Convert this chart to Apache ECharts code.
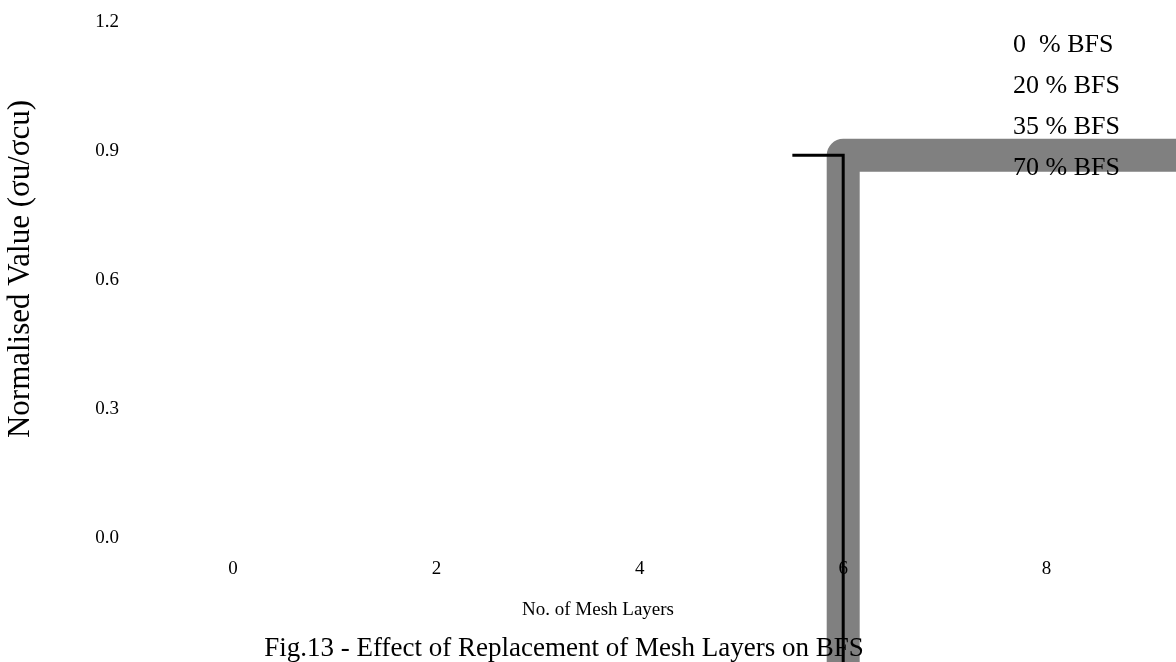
<!DOCTYPE html>
<html>
<head>
<meta charset="utf-8">
<script src="https://cdn.jsdelivr.net/npm/echarts@6/dist/echarts.min.js"></script>
<style>
  html, body { margin: 0; padding: 0; background: #fff; }
  #chart { width: 1176px; height: 662px; }
</style>
</head>
<body>
<div id="chart"></div>
<script>
// Axis ticks
const xTicks = [0, 2, 4, 6, 8];
const yTicks = [0.0, 0.3, 0.6, 0.9, 1.2];

// Series names (BFS replacement levels)
const seriesNames = ['0  % BFS', '20 % BFS', '35 % BFS', '70 % BFS'];

// Series points [mesh layers, normalised value]
const bfs0 = [];
const bfs20 = [];
const bfs35 = [[6, -1.0], [6, 0.89], [12, 0.89]];
const bfs70 = [[5.5, 0.89], [6, 0.89], [6, -1.0]];

const font = '"Liberation Serif", "Times New Roman", serif';
const chart = echarts.init(document.getElementById('chart'), null, { renderer: 'canvas' });

chart.setOption({
  animation: false,
  backgroundColor: '#ffffff',
  textStyle: { fontFamily: font, color: '#000' },
  grid: { left: 233, right: -74, top: 22, bottom: 124, containLabel: false, outerBoundsMode: 'none' },
  title: [
    {
      text: 'No. of Mesh Layers',
      left: 593, top: 596, textAlign: 'center',
      textStyle: { fontFamily: font, fontSize: 19, fontWeight: 'normal', color: '#000' }
    },
    {
      text: 'Fig.13 - Effect of Replacement of Mesh Layers on BFS',
      left: 559, top: 630, textAlign: 'center',
      textStyle: { fontFamily: font, fontSize: 27, fontWeight: 'normal', color: '#000' }
    }
  ],
  legend: {
    orient: 'vertical',
    left: 1007, top: 27,
    itemWidth: 0, itemHeight: 0, itemGap: 15,
    data: seriesNames,
    textStyle: { fontFamily: font, fontSize: 26, color: '#000', padding: [0, 0, 0, -5] }
  },
  xAxis: {
    type: 'value',
    min: 0, max: 10, interval: 2,
    axisLine: { show: false },
    axisTick: { show: false },
    splitLine: { show: false },
    axisLabel: {
      margin: 22, fontFamily: font, fontSize: 19, color: '#000',
      formatter: v => (xTicks.includes(v) ? String(v) : '')
    }
  },
  yAxis: {
    type: 'value',
    min: 0, max: 1.2, interval: 0.3,
    name: 'Normalised Value (σu/σcu)',
    nameLocation: 'middle',
    nameGap: 197,
    nameTextStyle: { fontFamily: font, fontSize: 31, color: '#000', padding: [0, 0, 0, 22] },
    axisLine: { show: false },
    axisTick: { show: false },
    splitLine: { show: false },
    axisLabel: {
      margin: 114, fontFamily: font, fontSize: 19, color: '#000',
      formatter: v => {
        const t = yTicks.find(y => Math.abs(y - v) < 1e-9);
        return t === undefined ? '' : t.toFixed(1);
      }
    }
  },
  series: [
    { name: seriesNames[0], type: 'line', data: bfs0, symbol: 'none', clip: false,
      lineStyle: { color: '#000', width: 2 }, itemStyle: { color: '#000' } },
    { name: seriesNames[1], type: 'line', data: bfs20, symbol: 'none', clip: false,
      lineStyle: { color: '#000', width: 2 }, itemStyle: { color: '#000' } },
    { name: seriesNames[2], type: 'line', data: bfs35, symbol: 'none', clip: false, z: -1,
      lineStyle: { color: '#808080', width: 33, join: 'round', cap: 'butt' },
      itemStyle: { color: '#808080' } },
    { name: seriesNames[3], type: 'line', data: bfs70, symbol: 'none', clip: false, z: 3,
      lineStyle: { color: '#000', width: 3, join: 'miter', cap: 'butt' },
      itemStyle: { color: '#000' } }
  ]
});
</script>
</body>
</html>
